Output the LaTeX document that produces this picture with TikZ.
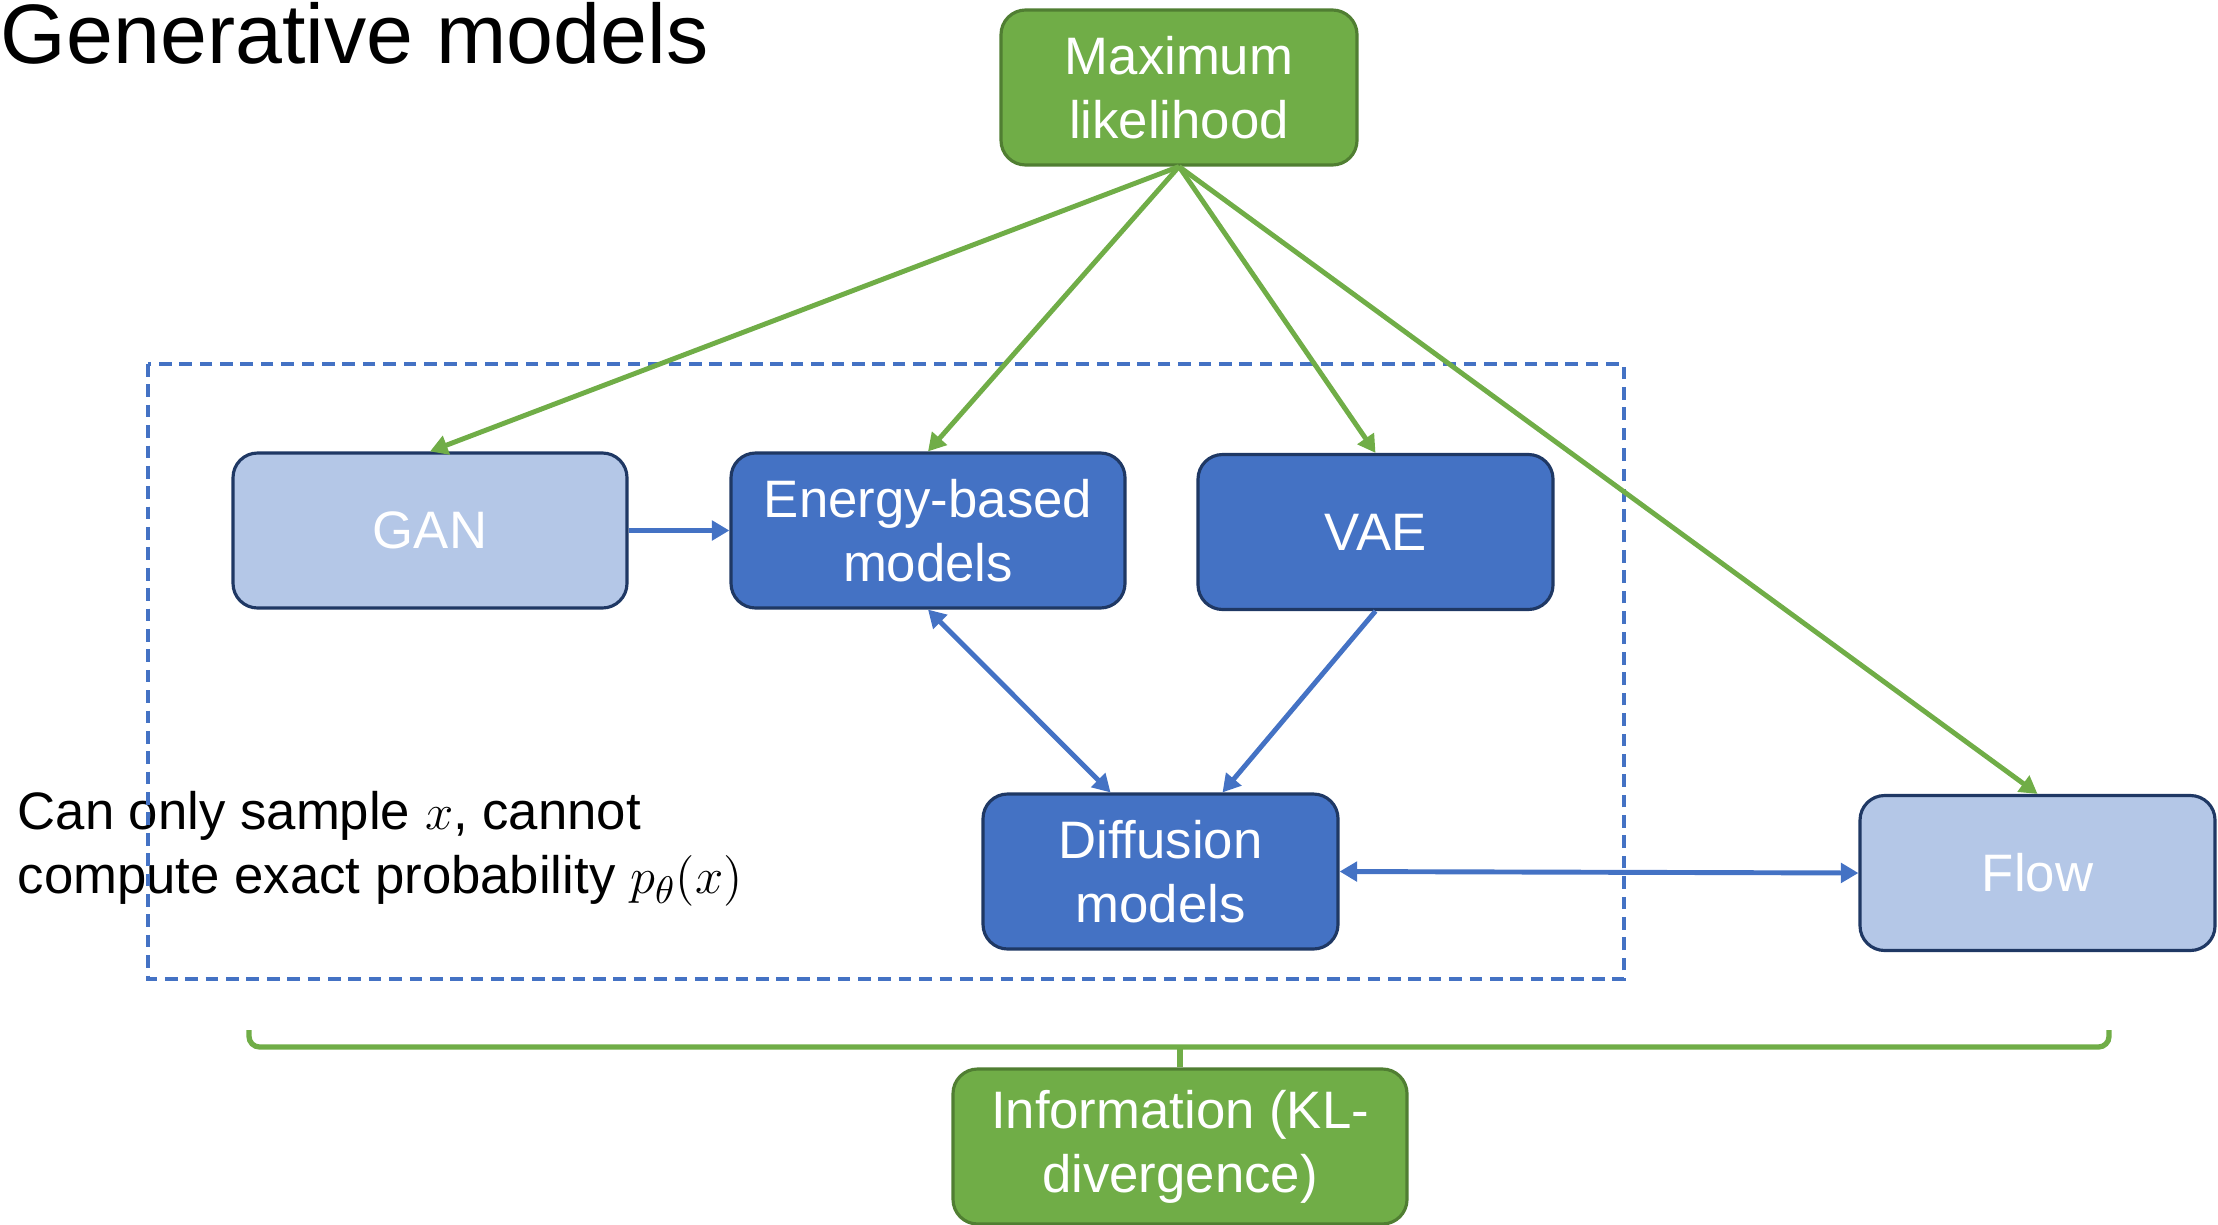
\documentclass[tikz,border=0pt]{standalone}
\usepackage{fontspec}
\setmainfont{Liberation Sans}
\usetikzlibrary{arrows.meta,positioning,calc}
\definecolor{darkblue}{HTML}{4472C4}
\definecolor{paleblue}{HTML}{B4C7E7}
\definecolor{navyline}{HTML}{1F3864}
\definecolor{leafgreen}{HTML}{70AD47}
\definecolor{darkgreen}{HTML}{507E32}

\begin{document}
\begin{tikzpicture}[
    >=Stealth,
    model/.style={
      draw=navyline, line width=0.9pt, rounded corners=7pt, fill=#1,
      text=white, font=\fontsize{15}{18.2}\selectfont, align=center,
      minimum width=3.55cm, minimum height=1.55cm, inner sep=2pt
    },
    model/.default=darkblue,
    goal/.style={
      draw=darkgreen, line width=0.9pt, rounded corners=7pt, fill=leafgreen,
      text=white, font=\fontsize{15}{18.2}\selectfont, align=center,
      minimum width=3.56cm, minimum height=1.55cm, inner sep=2pt
    },
    greenarr/.style={-{Triangle[length=5pt,width=5.5pt]}, draw=leafgreen, line width=1.4pt},
    bluearr/.style={-{Triangle[length=5pt,width=5.5pt]}, draw=darkblue, line width=1.4pt},
    bothblue/.style={{Triangle[length=5pt,width=5.5pt]}-{Triangle[length=5pt,width=5.5pt]}, draw=darkblue, line width=1.4pt},
    brace/.style={draw=leafgreen, line width=1.5pt},
  ]
  \useasboundingbox (0,0) rectangle (22.18,-12.24);

  % =================== Title and note ===================
  \node[anchor=base west, inner sep=0pt, font=\fontsize{24}{28}\selectfont] (title) at (0,-0.64) {Generative models};
  \node[anchor=west, align=left, inner sep=0pt, font=\fontsize{15}{18.2}\selectfont] (note) at (0.17,-8.49)
    {Can only sample $x$, cannot\\compute exact probability $p_\theta(x)$};

  % =================== Dashed group ===================
  \draw[darkblue, line width=1.1pt, dash pattern=on 3.6pt off 2.2pt] (1.48,-3.64) rectangle (16.24,-9.79);

  % =================== Models ===================
  \node[goal] (ml) at (11.79,-0.875) {Maximum\\likelihood};
  \node[model=paleblue, minimum width=3.94cm] (gan) at (4.30,-5.305) {GAN};
  \node[model, minimum width=3.94cm] (ebm) at (9.28,-5.305) {Energy-based\\models};
  \node[model] (vae) at (13.755,-5.32) {VAE};
  \node[model] (diff) at (11.605,-8.715) {Diffusion\\models};
  \node[model=paleblue] (flow) at (20.375,-8.73) {Flow};
  \node[goal, minimum width=4.54cm] (info) at (11.80,-11.465) {Information (KL-\\divergence)};

  % =================== Likelihood arrows ===================
  \draw[greenarr] (ml.south) -- (gan.north);
  \draw[greenarr] (ml.south) -- (ebm.north);
  \draw[greenarr] (ml.south) -- (vae.north);
  \draw[greenarr] (ml.south) -- (flow.north);

  % =================== Model relations ===================
  \draw[bluearr] (gan.east) -- (ebm.west);
  \draw[bothblue] (ebm.south) -- ($(diff.north)+(-0.5,0)$);
  \draw[bluearr] (vae.south) -- ($(diff.north)+(0.62,0)$);
  \draw[bothblue] (diff.east) -- (flow.west);

  % =================== Bracket ===================
  \coordinate (brl) at (2.49,-10.30);
  \coordinate (brr) at (21.09,-10.30);
  \draw[brace, rounded corners=3pt] (brl) -- ++(0,-0.17) -- ($(brr)+(0,-0.17)$) -- (brr);
  \draw[brace] (info.north) -- ++(0,0.22);

\end{tikzpicture}
\end{document}
